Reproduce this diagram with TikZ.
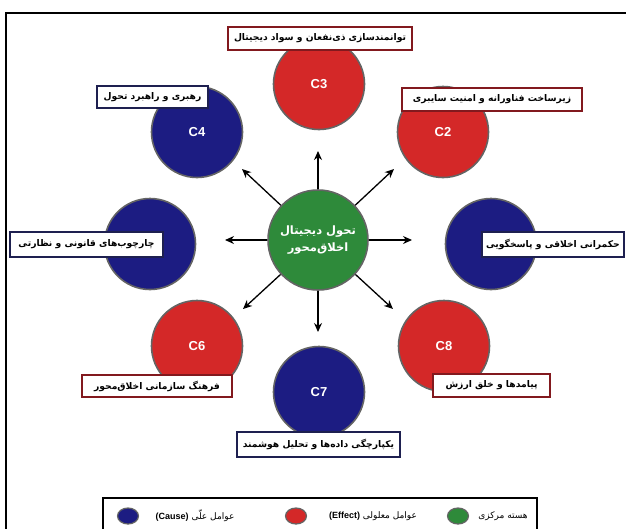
\documentclass[tikz,border=0pt]{standalone}
\usepackage{fontspec}
\TeXXeTstate=1
\newfontfamily\fa[Script=Arabic]{DejaVu Sans}
\setsansfont{Liberation Sans}
\usetikzlibrary{arrows.meta,shapes.geometric}
\definecolor{cred}{RGB}{212,40,40}
\definecolor{cblue}{RGB}{28,28,130}
\definecolor{cgreen}{RGB}{46,138,58}
\definecolor{cgray}{RGB}{100,100,100}
\definecolor{cdred}{RGB}{130,25,30}
\definecolor{cnavy}{RGB}{30,32,80}
\tikzset{
  circ/.style={circle, draw=cgray, line width=1.6pt, minimum size=91pt, inner sep=0pt,
    text=white, font=\sffamily\bfseries\fontsize{13}{15}\selectfont},
  redc/.style={circ, fill=cred},
  bluec/.style={circ, fill=cblue},
  lbl/.style={draw, fill=white, line width=1.4pt, inner sep=0pt,
    font=\fa\bfseries\fontsize{9.2}{11}\selectfont},
  lred/.style={lbl, draw=cdred},
  lblue/.style={lbl, draw=cnavy},
  arr/.style={-{Stealth[length=9pt,width=8pt]}, line width=1.3pt, black},
  dot/.style={ellipse, draw=cgray, line width=1.2pt, minimum width=21pt, minimum height=16pt, inner sep=0pt},
  legtxt/.style={font=\fa\fontsize{9}{11}\selectfont, inner sep=0pt}
}
\begin{document}
\begin{tikzpicture}[x=1pt,y=-1pt]
\useasboundingbox (0,0) rectangle (626,528);
\fill[white] (0,0) rectangle (626,528);
% outer frame
\draw[line width=2.4pt, black] (6,530) -- (6,13) -- (627,13);

% center
\node[circ, fill=cgreen, minimum size=100pt, font=\fa\bfseries\fontsize{11.5}{17}\selectfont, align=center] (core) at (318,240)
  {\beginR تحول دیجیتال\endR\\\beginR اخلاق‌محور\endR};

% surrounding circles
\node[redc] (c3) at (319,84) {C3};
\node[redc] (c2) at (443,132) {C2};
\node[bluec] (c4) at (197,132) {C4};
\node[bluec] (cl) at (150,244) {};
\node[bluec] (cr) at (491,244) {};
\node[redc] (c6) at (197,346) {C6};
\node[redc] (c8) at (444,346) {C8};
\node[bluec] (c7) at (319,392) {C7};

% arrows
\coordinate (aN) at (318,151);
\coordinate (aS) at (318,332);
\coordinate (aW) at (225,240);
\coordinate (aE) at (412,240);
\coordinate (aNE) at (394,169);
\coordinate (aNW) at (242,169);
\coordinate (aSE) at (393,309);
\coordinate (aSW) at (243,309);
\foreach \p in {aN,aS,aW,aE,aNE,aNW,aSE,aSW} \draw[arr] (core) -- (\p);

% labels
\node[lred, minimum width=184pt, minimum height=23pt] (t3) at (320,38.5) {\beginR توانمندسازی ذی‌نفعان و سواد دیجیتال\endR};
\node[lred, minimum width=180pt, minimum height=23pt] (t2) at (492,99.5) {\beginR زیرساخت فناورانه و امنیت سایبری\endR};
\node[lblue, minimum width=111pt, minimum height=22pt] (t4) at (152.5,97) {\beginR رهبری و راهبرد تحول\endR};
\node[lblue, minimum width=153pt, minimum height=25pt] (tl) at (86.5,244.5) {\beginR چارچوب‌های قانونی و نظارتی\endR};
\node[lblue, minimum width=142pt, minimum height=25pt] (tr) at (553,244.5) {\beginR حکمرانی اخلاقی و پاسخگویی\endR};
\node[lred, minimum width=150pt, minimum height=22pt] (t6) at (157,386) {\beginR فرهنگ سازمانی اخلاق‌محور\endR};
\node[lred, minimum width=117pt, minimum height=23pt] (t8) at (491.5,385.5) {\beginR پیامدها و خلق ارزش\endR};
\node[lblue, minimum width=163pt, minimum height=25pt] (t7) at (318.5,444.5) {\beginR یکپارچگی داده‌ها و تحلیل هوشمند\endR};

% legend
\draw[line width=1.6pt, black] (103,540) -- (103,498) -- (537,498) -- (537,540);
\node[dot, fill=cblue] (lb) at (128,516) {};
\node[legtxt] (lbt) at (195,516) {{\sffamily\bfseries (Cause)} \beginR عوامل علّی\endR};
\node[dot, fill=cred] (lr) at (296,516) {};
\node[legtxt] (lrt) at (373,516) {{\sffamily\bfseries (Effect)} \beginR عوامل معلولی\endR};
\node[dot, fill=cgreen] (lg) at (458,516) {};
\node[legtxt] (lgt) at (503,516) {\beginR هسته مرکزی\endR};
\end{tikzpicture}
\end{document}
